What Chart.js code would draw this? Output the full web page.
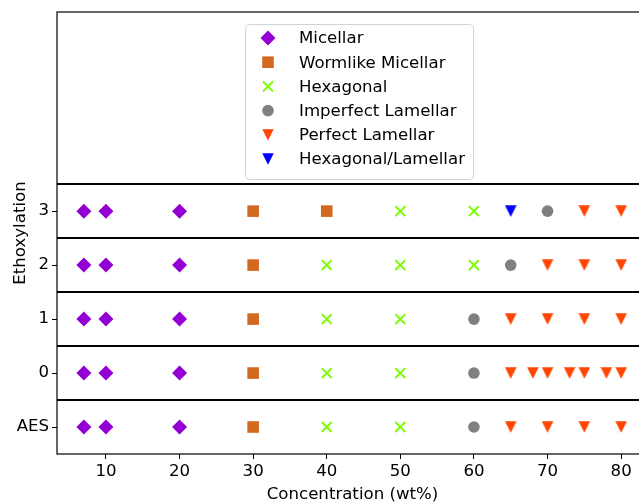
<!DOCTYPE html>
<html>
<head>
<meta charset="utf-8">
<script src="https://cdn.jsdelivr.net/npm/chart.js@4"></script>
<style>
  html, body { margin: 0; padding: 0; background: #fff; overflow: hidden; }
  #wrap { width: 657px; height: 502px; }
</style>
</head>
<body>
<div id="wrap"><canvas id="chart" width="657" height="502"></canvas></div>
<script>
// rows on the y axis (index = y value)
const rowLabels = ['AES', '0', '1', '2', '3'];
const xTicks = [10, 20, 30, 40, 50, 60, 70, 80];
const dividers = [0.5, 1.5, 2.5, 3.5, 4.5];

// [concentration, row]
const micellar = [[7,0],[10,0],[20,0],[7,1],[10,1],[20,1],[7,2],[10,2],[20,2],[7,3],[10,3],[20,3],[7,4],[10,4],[20,4]];
const wormlike = [[30,0],[30,1],[30,2],[30,3],[30,4],[40,4]];
const hexagonal = [[40,0],[50,0],[40,1],[50,1],[40,2],[50,2],[40,3],[50,3],[60,3],[50,4],[60,4]];
const imperfect = [[60,0],[60,1],[60,2],[65,3],[70,4]];
const perfect = [[65,0],[70,0],[75,0],[80,0],
                 [65,1],[68,1],[70,1],[73,1],[75,1],[78,1],[80,1],
                 [65,2],[70,2],[75,2],[80,2],
                 [70,3],[75,3],[80,3],
                 [75,4],[80,4]];
const hexLam = [[65,4]];

const pts = arr => arr.map(p => ({ x: p[0], y: p[1] }));

// downward triangle centred on its bounding box, like matplotlib's 'v'
function triDown(color) {
  const c = document.createElement('canvas');
  c.width = 12; c.height = 12;
  const g = c.getContext('2d');
  g.fillStyle = color;
  g.beginPath();
  g.moveTo(0.25, 0.25);
  g.lineTo(11.75, 0.25);
  g.lineTo(6, 11.75);
  g.closePath();
  g.fill();
  return c;
}

function ds(label, data, color, style, radius, extra) {
  return Object.assign({
    label: label,
    data: pts(data),
    backgroundColor: color,
    borderColor: color,
    pointStyle: style,
    pointRadius: radius,
    pointHoverRadius: radius,
    pointBorderWidth: 0,
    pointRotation: 0
  }, extra || {});
}

Chart.defaults.font.family = 'DejaVu Sans';
Chart.defaults.font.size = 16.6;
Chart.defaults.color = '#000';

const dividerLines = {
  id: 'dividerLines',
  beforeDatasetsDraw(chart) {
    const { ctx, chartArea, scales } = chart;
    ctx.save();
    ctx.strokeStyle = '#000';
    ctx.lineWidth = 2;
    dividers.forEach(v => {
      const y = Math.round(scales.y.getPixelForValue(v));
      ctx.beginPath();
      ctx.moveTo(chartArea.left, y);
      ctx.lineTo(chartArea.right, y);
      ctx.stroke();
    });
    ctx.restore();
  }
};

const frame = {
  id: 'frame',
  afterDatasetsDraw(chart) {
    const { ctx, chartArea } = chart;
    ctx.save();
    ctx.strokeStyle = '#000';
    ctx.lineWidth = 1.2;
    ctx.strokeRect(chartArea.left, chartArea.top, chartArea.right - chartArea.left, chartArea.bottom - chartArea.top);
    ctx.restore();
  }
};

// legend box drawn inside the plot, upper centre
const boxLegend = {
  id: 'boxLegend',
  afterDraw(chart) {
    const ctx = chart.ctx;
    const left = 245, top = 24, w = 228, h = 155, rowH = 24.2;
    ctx.save();
    ctx.fillStyle = 'rgba(255,255,255,0.8)';
    ctx.strokeStyle = '#d4d4d4';
    ctx.lineWidth = 1;
    ctx.beginPath();
    ctx.roundRect(left + 0.5, top + 0.5, w, h, 4);
    ctx.fill();
    ctx.stroke();
    chart.data.datasets.forEach((d, i) => {
      const y = top + 14 + i * rowH;
      ctx.fillStyle = d.backgroundColor;
      ctx.strokeStyle = d.borderColor;
      ctx.lineWidth = d.pointBorderWidth;
      Chart.helpers.drawPoint(ctx, {
        pointStyle: d.pointStyle,
        rotation: d.pointRotation,
        radius: d.pointRadius,
        borderWidth: d.pointBorderWidth
      }, left + 23, y);
      ctx.fillStyle = '#000';
      ctx.textBaseline = 'middle';
      ctx.textAlign = 'left';
      ctx.font = '16.6px "DejaVu Sans"';
      ctx.fillText(d.label, left + 54, y + 1);
    });
    ctx.restore();
  }
};

new Chart(document.getElementById('chart'), {
  type: 'scatter',
  data: {
    datasets: [
      ds('Micellar', micellar, '#9400D3', 'rectRot', 7.5),
      ds('Wormlike Micellar', wormlike, '#D2691E', 'rect', 8.2),
      ds('Hexagonal', hexagonal, '#7CFC00', 'crossRot', 7, { pointBorderWidth: 2 }),
      ds('Imperfect Lamellar', imperfect, '#808080', 'circle', 5.8),
      ds('Perfect Lamellar', perfect, '#FF4500', triDown('#FF4500'), 6),
      ds('Hexagonal/Lamellar', hexLam, '#0000FF', triDown('#0000FF'), 6)
    ]
  },
  options: {
    responsive: false,
    animation: false,
    layout: { padding: { top: 12, right: 2, left: 0, bottom: 0 } },
    plugins: { legend: { display: false }, tooltip: { enabled: false } },
    scales: {
      x: {
        type: 'linear',
        min: 3.35,
        max: 83.65,
        afterBuildTicks: s => { s.ticks = xTicks.map(v => ({ value: v })); },
        afterFit: s => { s.height = 48; s.paddingLeft = 0; s.paddingRight = 0; },
        grid: { drawOnChartArea: false, drawTicks: true, tickLength: 5, color: '#000', lineWidth: 1 },
        border: { display: false },
        ticks: { padding: 3, maxRotation: 0, color: '#000' },
        title: { display: true, text: 'Concentration (wt%)', padding: { top: 0, bottom: -3 } }
      },
      y: {
        type: 'linear',
        min: -0.5,
        max: 7.69,
        afterBuildTicks: s => { s.ticks = rowLabels.map((l, i) => ({ value: i })); },
        afterFit: s => { s.width = 57; s.paddingTop = 0; s.paddingBottom = 0; },
        grid: { drawOnChartArea: false, drawTicks: true, tickLength: 5, color: '#000', lineWidth: 1 },
        border: { display: false },
        ticks: { padding: 3, color: '#000', callback: v => rowLabels[v] },
        title: { display: true, text: 'Ethoxylation', padding: { top: 11, bottom: 0 } }
      }
    }
  },
  plugins: [dividerLines, frame, boxLegend]
});
</script>
</body>
</html>
